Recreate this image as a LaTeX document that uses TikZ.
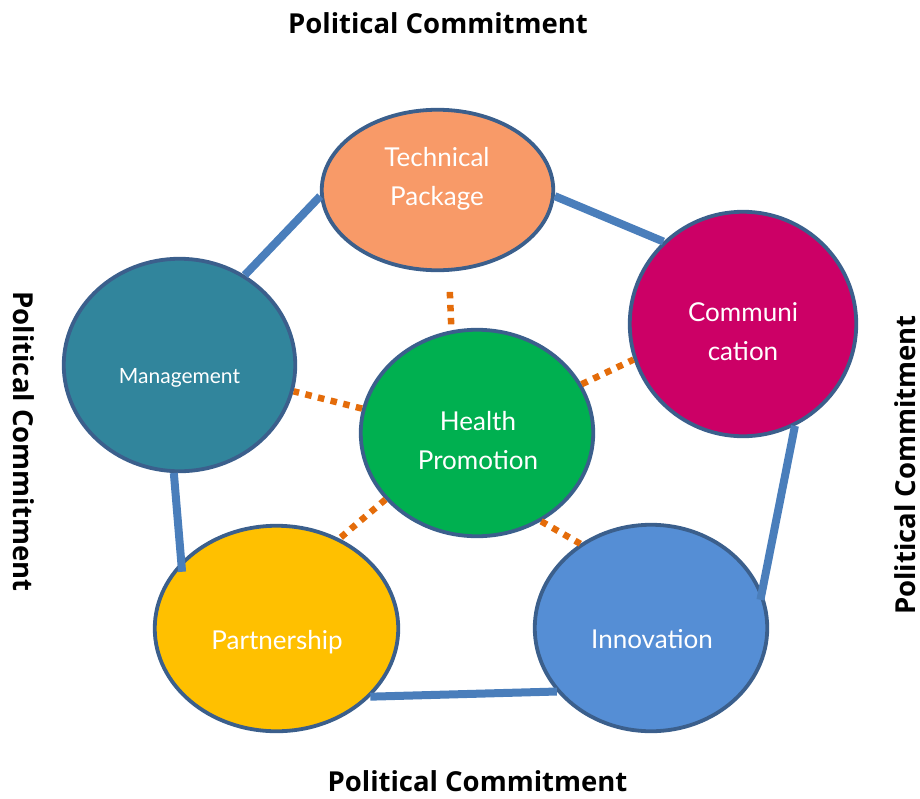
\documentclass[tikz,border=0pt]{standalone}
\usepackage{fontspec}
\setmainfont{Lato}
\newfontfamily\capfont{Open Sans}
\usetikzlibrary{shapes.geometric}

\definecolor{rim}{HTML}{3B5F8C}
\definecolor{linkblue}{HTML}{4A7EBB}
\definecolor{dotorange}{HTML}{E46C0A}
\definecolor{techorange}{HTML}{F89A68}
\definecolor{commred}{HTML}{CC0066}
\definecolor{mgmtteal}{HTML}{31859C}
\definecolor{healthgreen}{HTML}{00B050}
\definecolor{partgold}{HTML}{FFC000}
\definecolor{innovblue}{HTML}{558ED5}

\tikzset{
  bubble/.style={ellipse, draw=rim, line width=3.8pt, inner sep=0pt},
  link/.style={draw=linkblue, line width=8pt},
  dotlink/.style={draw=dotorange, line width=6.5pt, dash pattern=on 6.5pt off 6.5pt},
  lbl/.style={text=white, font=\fontsize{26}{39}\selectfont, align=center, anchor=base},
  title/.style={font=\capfont\fontsize{27.5}{30}\selectfont\bfseries, anchor=base}
}

\begin{document}
\begin{tikzpicture}[x=1pt,y=-1pt]
\useasboundingbox (0,0) rectangle (920,798);

% the six components
\node[bubble, fill=techorange,  minimum width=231.5pt, minimum height=160.5pt] (tp) at (437.5,190) {};
\node[bubble, fill=commred,     minimum width=226.5pt, minimum height=224.5pt] (cm) at (743,324) {};
\node[bubble, fill=mgmtteal,    minimum width=231.5pt, minimum height=212.5pt] (mg) at (179.5,365) {};
\node[bubble, fill=healthgreen, minimum width=232.5pt, minimum height=206.5pt] (hp) at (477,433) {};
\node[bubble, fill=partgold,    minimum width=243.5pt, minimum height=205.5pt] (pt) at (276.5,628.5) {};
\node[bubble, fill=innovblue,   minimum width=232.5pt, minimum height=206.5pt] (in) at (651,628) {};

% labels inside the components (base = baseline of the last line)
\node[lbl] (tp-t) at (437,205) {Technical\\Package};
\node[lbl] (cm-t) at (743,360) {Communi\\cation};
\node[lbl, font=\fontsize{21}{25}\selectfont] (mg-t) at (179.5,383) {Management};
\node[lbl] (hp-t) at (478,469) {Health\\Promotion};
\node[lbl] (pt-t) at (277,649) {Partnership};
\node[lbl] (in-t) at (652,648) {Innovation};

% outer ring of solid links
\draw[link] (tp.183) -- (mg.54.8);
\draw[link] (tp.-3.5) -- (cm.134);
\draw[link, shorten >=-8pt] (cm.-63.4) -- (in.18.6);
\draw[link, shorten >=-10pt] (mg.-93.4) -- (pt.145);
\draw[link] (pt.-36.6) -- (in.214.9);

% dotted spokes from the centre
\draw[dotlink, shorten <=6pt, shorten >=14pt] (hp.104.9) -- (tp.-82);
\draw[dotlink] (hp.168.7) -- (mg.-13.6);
\draw[dotlink] (hp.25.3) -- (cm.198.6);
\draw[dotlink] (hp.216.4) -- (pt.55.8);
\draw[dotlink] (hp.-54.3) -- (in.130.4);

% surrounding frame of captions
\node[title] (cap-top) at (438,33) {Political Commitment};
\node[title] (cap-bottom) at (477.5,791) {Political Commitment};
\node[title, rotate=-90] (cap-left) at (13,441.5) {Political Commitment};
\node[title, rotate=90] (cap-right) at (915,465) {Political Commitment};
\end{tikzpicture}
\end{document}
